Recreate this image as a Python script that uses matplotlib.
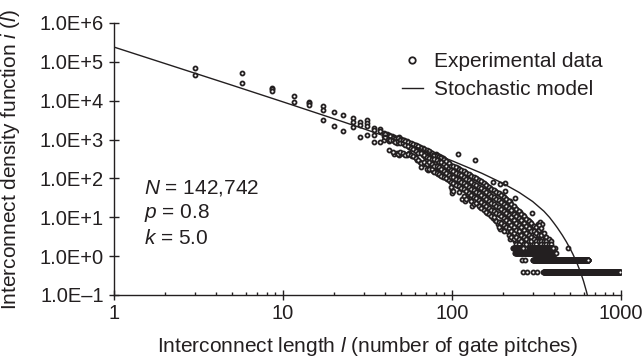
import matplotlib
matplotlib.use('Agg')
import matplotlib.pyplot as plt
from matplotlib.ticker import FixedLocator, NullFormatter, NullLocator

plt.rcParams['font.family'] = 'Liberation Sans'
plt.rcParams['mathtext.fontset'] = 'custom'
plt.rcParams['mathtext.rm'] = 'Liberation Sans'
plt.rcParams['mathtext.it'] = 'Liberation Sans:italic'

ink = '#231f20'

# stochastic model
model_len = [1, 2, 3, 5, 10, 20, 30, 50, 70, 100, 150, 200, 250, 300, 350, 378,
             400, 420, 450, 475, 500, 520, 550, 575, 600, 625, 640]
model_val = [2.4e5, 9.07e4, 5.13e4, 2.5e4, 9330, 3440, 1900, 876, 516, 285, 136,
             74.9, 43.5, 25.5, 14.3, 9.9, 7.19, 5.38, 3.44, 2.34, 1.56, 1.11,
             0.647, 0.394, 0.228, 0.122, 0.080]

# experimental data, one column of values per length
col_len = [3, 5.7, 8.6, 11.6, 14.3, 17.2, 19.9, 22.7, 26, 28.6, 31.3, 34.5, 37.5,
           39.5, 41, 42.5, 44, 45.5, 47, 48.5, 50, 52, 54, 56, 58, 60, 62, 64.5,
           67, 69.5, 72, 74.5, 77, 80, 82.5, 85, 88, 91, 94, 97, 100, 104, 108,
           109, 111, 115, 119, 123, 128, 132, 137, 141, 146, 151, 157, 162, 168,
           174, 180, 186, 192, 199, 206, 213, 220, 228, 236, 244, 253, 262, 270,
           280, 289, 299, 310, 321, 332, 343, 355, 367, 380, 393, 407, 484,
           258, 263, 272, 279, 303, 318]
col_vals = [
    [68000, 46000], [53000, 29000], [21000, 19500, 18000], [13300, 9500],
    [9500, 8600, 7800], [7300, 5800, 3200], [5200, 2200], [4300, 1700],
    [3550, 2900, 2160], [2900, 2390, 1140], [3200, 2690, 2180, 1320],
    [1940, 1725, 1280, 890], [1830, 1675, 847],
    [1490, 1250, 980], [1400, 1110], [1320, 930, 530], [1200, 1040],
    [1170, 900, 430], [1100, 820, 440], [1140, 980, 405], [1040, 870, 455],
    [980, 780, 420], [930, 710, 405], [820, 650, 440], [780, 600, 385],
    [730, 545, 360], [690, 520, 300], [650, 480, 270], [600, 405, 230],
    [545, 360, 250], [520, 380, 210, 166], [470, 345, 250, 188],
    [405, 300, 218, 156], [430, 335, 195, 148], [380, 280, 224, 132],
    [360, 300, 180, 124], [345, 250, 166, 110], [300, 218, 148, 117],
    [265, 200, 132, 98], [224, 177, 117, 87], [210, 156, 110, 51, 43],
    [200, 148, 104, 72], [187, 132, 92, 64], [430], [166, 124, 87, 60],
    [156, 117, 77, 54, 30], [148, 104, 72, 51, 27], [132, 92, 64, 45, 32],
    [124, 87, 57, 40], [110, 77, 51, 36, 19.7], [300, 104, 68, 48, 33],
    [98, 64, 45, 30], [87, 57, 40, 27, 18.7], [82, 54, 36, 23.6],
    [72, 48, 32, 21], [64, 43, 28, 18.7, 13.1], [57, 38, 25.5, 16.5],
    [82, 51, 34, 22.5, 15, 9.7], [48, 32, 21, 14, 8.6],
    [43, 28, 18.7, 12.3, 6.8], [72, 40, 27, 17.5, 11.6, 7.7, 5.1],
    [36, 23.6, 15.6, 10.3, 6.1], [77, 48, 32, 21, 14, 9.3, 5.4],
    [28, 18.7, 12.3, 8.1, 4.4], [26.5, 23.6, 15.6, 10.3, 6.8, 4.4, 2.8],
    [20, 13.1, 8.6, 5.7, 3.6], [32, 17.5, 11.6, 7.6, 4.8, 2.4],
    [15.6, 10.3, 6.8, 4.4, 2.0], [14, 9.3, 6.1, 4.0, 2.4, 1.6],
    [11.6, 7.6, 4.8, 3.2, 2.0, 1.6], [9.7, 6.4, 4.0, 2.8, 1.6],
    [8.6, 5.6, 3.6, 2.4, 2.0, 1.2], [7.6, 4.8, 3.2, 2.0, 1.6],
    [13, 6.4, 4.0, 2.8, 2.0, 1.2], [5.6, 3.6, 2.4, 1.6],
    [6.8, 4.4, 2.8, 2.0, 1.2], [7.6, 6.0, 3.2, 2.4, 1.6],
    [6.8, 4.0, 2.8, 1.6, 1.2], [2.8, 2.0, 1.6], [2.4, 1.6, 1.2],
    [2.0, 1.6, 1.2], [1.6, 1.2], [1.6, 1.2], [1.6],
    [0.8], [0.4], [0.8], [0.4], [0.4], [0.4],
]

# second, staggered set of lengths inside the dense cloud
col2_len = [40.2, 43.2, 44.7, 46.2, 47.7, 49.2, 51, 53, 55, 57, 59, 61, 63, 65.8,
            68.2, 70.8, 73.2, 75.8, 78.5, 81.2, 83.7, 86.5, 89.5, 92.5, 95.5,
            98.5, 102, 106, 110, 113, 117, 121, 125.5, 130, 134.5, 139, 143.5,
            148.5, 154, 159.5, 165, 171, 177, 183, 189, 195.5, 202.5, 209.5,
            216.5, 224, 232, 240, 248.5, 257.5, 266, 275, 284.5, 294, 304.5,
            315.5, 326.5, 337.5, 349, 361, 373.5, 386.5]
col2_vals = [
    [1380, 1160], [1250, 1000], [1130, 960, 470], [1060, 870],
    [1080, 900, 420], [1000, 820, 470], [960, 830, 440], [900, 740, 395],
    [860, 690, 420], [800, 620, 410], [750, 570, 370], [710, 500, 330],
    [670, 460, 290], [620, 440, 250, 200], [570, 390, 270],
    [530, 350, 230, 180], [500, 330, 260, 175], [440, 320, 235, 170],
    [410, 310, 205, 150], [400, 290, 210, 140], [370, 270, 200, 128],
    [350, 265, 175, 118], [320, 235, 158, 112], [285, 210, 140, 105],
    [245, 190, 125, 92], [215, 165, 112, 80, 60], [205, 152, 107, 76, 48],
    [193, 140, 98, 68], [175, 128, 90, 62, 46], [160, 120, 82, 57],
    [152, 110, 75, 52, 36], [140, 98, 68, 48, 30], [128, 90, 60, 42],
    [117, 82, 54, 38, 26], [108, 72, 50, 34, 22], [100, 66, 46, 31, 24],
    [92, 60, 42, 28, 20], [85, 56, 38, 25, 17], [77, 51, 34, 22, 15.5],
    [68, 45, 30, 20, 14], [60, 40, 27, 17.5, 12], [54, 36, 24, 15.5, 11],
    [50, 34, 22, 14.5, 10], [46, 30, 20, 13, 8], [42, 28, 18, 12, 7.4, 5.5],
    [38, 25, 16.5, 11, 7.0], [34, 22, 14.5, 9.7, 6.4, 4.4],
    [30, 20, 13, 8.6, 5.6], [26, 17, 11.6, 7.6, 5.2, 3.6],
    [22, 15, 10, 6.4, 4.4, 3.2], [19, 12.5, 8.4, 5.6, 4.0, 2.8],
    [16.5, 11, 7.2, 4.8, 3.2, 2.0], [14.5, 9.7, 6.4, 4.4, 2.8, 2.0],
    [12.5, 8.4, 5.6, 3.6, 2.4], [10.5, 7.2, 4.8, 3.2, 2.0],
    [9.3, 6.0, 4.0, 2.8, 2.0], [8.0, 5.2, 3.6, 2.4], [7.2, 4.4, 3.2, 2.4, 1.6],
    [6.0, 4.4, 2.8, 2.0], [5.6, 4.0, 2.4, 2.0], [6.4, 4.8, 3.6, 2.4],
    [5.2, 3.6, 2.4, 2.0], [4.0, 2.4, 2.0], [3.2, 2.4, 2.0], [2.8, 2.0],
    [2.4, 2.0],
]

# flat runs of low counts (every integer length in the range)
run_val = [0.8, 0.4, 1.2, 1.6, 1.6]
run_from = [301, 347, 236, 230, 295]
run_to = [640, 985, 410, 262, 395]

x_tick_vals = [1, 10, 100, 1000]
x_tick_text = ['1', '10', '100', '1000']
y_tick_vals = [1e-1, 1e0, 1e1, 1e2, 1e3, 1e4, 1e5, 1e6]
y_tick_text = ['1.0E\u20131', '1.0E+0', '1.0E+1', '1.0E+2', '1.0E+3',
               '1.0E+4', '1.0E+5', '1.0E+6']

xs = []
ys = []
for l, vals in zip(col_len + col2_len, col_vals + col2_vals):
    for v in vals:
        xs.append(l)
        ys.append(v)
for v, a, b in zip(run_val, run_from, run_to):
    for l in range(a, b + 1):
        xs.append(l)
        ys.append(v)

fig = plt.figure(figsize=(6.43, 3.61), dpi=100)
ax = fig.add_axes([114 / 643, 1 - 295 / 361, 507 / 643, 272 / 361])

ax.plot(xs, ys, 'o', ms=2.9, mfc='white', mec=ink, mew=1.3, ls='none',
        label='Experimental data', zorder=2)
ax.plot(model_len, model_val, '-', color=ink, lw=1.0,
        label='Stochastic model', zorder=3)

ax.set_xscale('log')
ax.set_yscale('log')
ax.set_xlim(1, 1000)
ax.set_ylim(0.1, 1e6)

for s in ['top', 'right']:
    ax.spines[s].set_visible(False)
for s in ['left', 'bottom']:
    ax.spines[s].set_linewidth(1.0)
    ax.spines[s].set_color(ink)

ax.xaxis.set_major_locator(FixedLocator(x_tick_vals))
ax.set_xticklabels(x_tick_text)
minor = [m * d for d in [1, 10, 100] for m in range(2, 10)]
ax.xaxis.set_minor_locator(FixedLocator(minor))
ax.xaxis.set_minor_formatter(NullFormatter())
ax.yaxis.set_major_locator(FixedLocator(y_tick_vals))
ax.set_yticklabels(y_tick_text)
ax.yaxis.set_minor_locator(NullLocator())

ax.tick_params(axis='y', which='major', direction='inout', length=6.7,
               width=1, color=ink, labelcolor=ink, labelsize=14.5, pad=3.9)
ax.tick_params(axis='x', which='major', direction='inout', length=7,
               width=1, color=ink, labelcolor=ink, labelsize=14.5, pad=3)
ax.tick_params(axis='x', which='minor', direction='in', length=2.4,
               width=1, color=ink)

ax.set_xlabel('Interconnect length $l$ (number of gate pitches)',
              fontsize=15, color=ink)
ax.xaxis.set_label_coords(0.5, -0.147)
ax.xaxis.label.set_va('top')
ax.set_ylabel('Interconnect density function $i$ ($l$)', fontsize=15, color=ink)
ax.yaxis.set_label_coords(-0.182, 0.5)

fig.text(144 / 643, 1 - 188 / 361, '$N$ = 142,742', fontsize=15, color=ink, va='center')
fig.text(144 / 643, 1 - 213 / 361, '$p$ = 0.8', fontsize=15, color=ink, va='center')
fig.text(144 / 643, 1 - 238 / 361, '$k$ = 5.0', fontsize=15, color=ink, va='center')

leg = ax.legend(loc='upper left', bbox_to_anchor=(401.7 / 643, 1 - 52 / 361),
                bbox_transform=fig.transFigure, frameon=False, fontsize=15,
                handlelength=1.0, handletextpad=0.55, borderpad=0,
                borderaxespad=0, labelspacing=0.45, markerscale=1.6)
for t in leg.get_texts():
    t.set_color(ink)

fig.savefig('out.png', dpi=100)
